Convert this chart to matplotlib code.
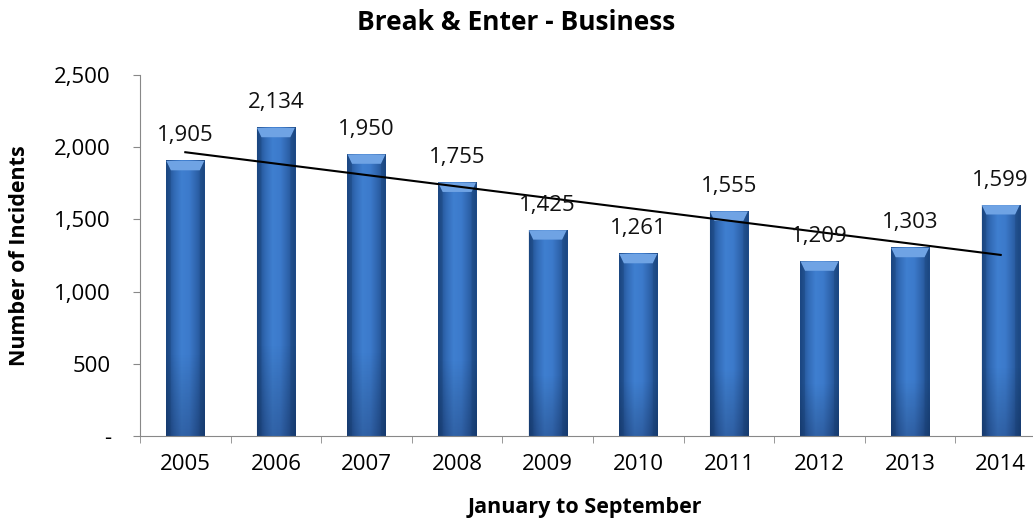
import numpy as np
import matplotlib.pyplot as plt
from matplotlib.colors import LinearSegmentedColormap
from matplotlib.patches import Polygon
from matplotlib.ticker import FuncFormatter

# 1月〜9月の件数
years = ["2005", "2006", "2007", "2008", "2009", "2010", "2011", "2012", "2013", "2014"]
incidents = [1905, 2134, 1950, 1755, 1425, 1261, 1555, 1209, 1303, 1599]

plt.rcParams["font.family"] = ["Open Sans", "DejaVu Sans"]

W, H = 1033, 522
fig = plt.figure(figsize=(W / 100, H / 100), dpi=100)
ax = fig.add_axes([140 / W, 1 - 436 / H, (1046 - 140) / W, (436 - 75) / H])

x = np.arange(len(years))
w = 0.42

# 棒の色 (横方向のグラデーション)
cmap = LinearSegmentedColormap.from_list(
    "bar", ["#1d4a86", "#3169b4", "#3f7fd0", "#3c7acb", "#2e63ab", "#1d4a86"])
grad = np.linspace(0, 1, 64).reshape(1, -1)
shade = LinearSegmentedColormap.from_list("shade", [(0, 0, 0.1, 0.22), (0, 0, 0, 0)])
vgrad = np.linspace(0, 1, 64).reshape(-1, 1)

bars = ax.bar(x, incidents, w, color="none", edgecolor="none")
for b, v in zip(bars, incidents):
    x0 = b.get_x()
    ax.imshow(grad, cmap=cmap, aspect="auto", extent=[x0, x0 + w, 0, v],
              origin="lower", zorder=2)
    ax.imshow(vgrad, cmap=shade, aspect="auto", extent=[x0, x0 + w, 0, v * 0.3],
              origin="lower", zorder=2.1)
    # 上端の面取り
    bev = 65
    dx = 0.05
    ax.add_patch(Polygon([[x0, v], [x0 + w, v], [x0 + w - dx, v - bev], [x0 + dx, v - bev]],
                         closed=True, facecolor="#6fa3e4", edgecolor="none", zorder=2.2))
    ax.add_patch(Polygon([[x0, v], [x0 + dx, v - bev], [x0 + dx, 0], [x0, 0]],
                         closed=True, facecolor="#163d70", alpha=0.3, edgecolor="none", zorder=2.2))
    ax.add_patch(Polygon([[x0 + w, v], [x0 + w - dx, v - bev], [x0 + w - dx, 0], [x0 + w, 0]],
                         closed=True, facecolor="#163d70", alpha=0.3, edgecolor="none", zorder=2.2))
    ax.annotate(f"{v:,}", (b.get_x() + w / 2, v), xytext=(0, 14), textcoords="offset points",
                ha="center", va="baseline", fontsize=16, color="#111111", zorder=4)

# 線形近似
a, c = np.polyfit(x, incidents, 1)
ax.plot(x, a * x + c, color="black", lw=1.5, zorder=3)

ax.set_xlim(-0.5, 9.5)
ax.set_ylim(0, 2500)
ax.set_yticks(np.arange(0, 2501, 500))
ax.yaxis.set_major_formatter(FuncFormatter(lambda v, p: "-" if v == 0 else f"{int(v):,}"))
ax.set_xticks(x)
ax.set_xticklabels(years)
ax.set_xticks(np.arange(-0.5, 9.6, 1), minor=True)
ax.tick_params(axis="x", which="major", length=0, pad=13, labelsize=16)
ax.tick_params(axis="x", which="minor", length=5, color="#888888", direction="out")
ax.tick_params(axis="y", length=5, color="#888888", pad=16, labelsize=16)

for s in ["top", "right"]:
    ax.spines[s].set_visible(False)
for s in ["left", "bottom"]:
    ax.spines[s].set_color("#888888")

fig.text(0.5, 1 - 23 / H, "Break & Enter - Business", fontsize=19, fontweight="bold",
         ha="center", va="center")
fig.text(585 / W, 1 - 508 / H, "January to September", fontsize=15.5, fontweight="bold",
         ha="center", va="center")
fig.text(20 / W, 1 - 256 / H, "Number of Incidents", fontsize=15.5, fontweight="bold",
         ha="center", va="center", rotation=90)

fig.savefig("out.png", dpi=100)
